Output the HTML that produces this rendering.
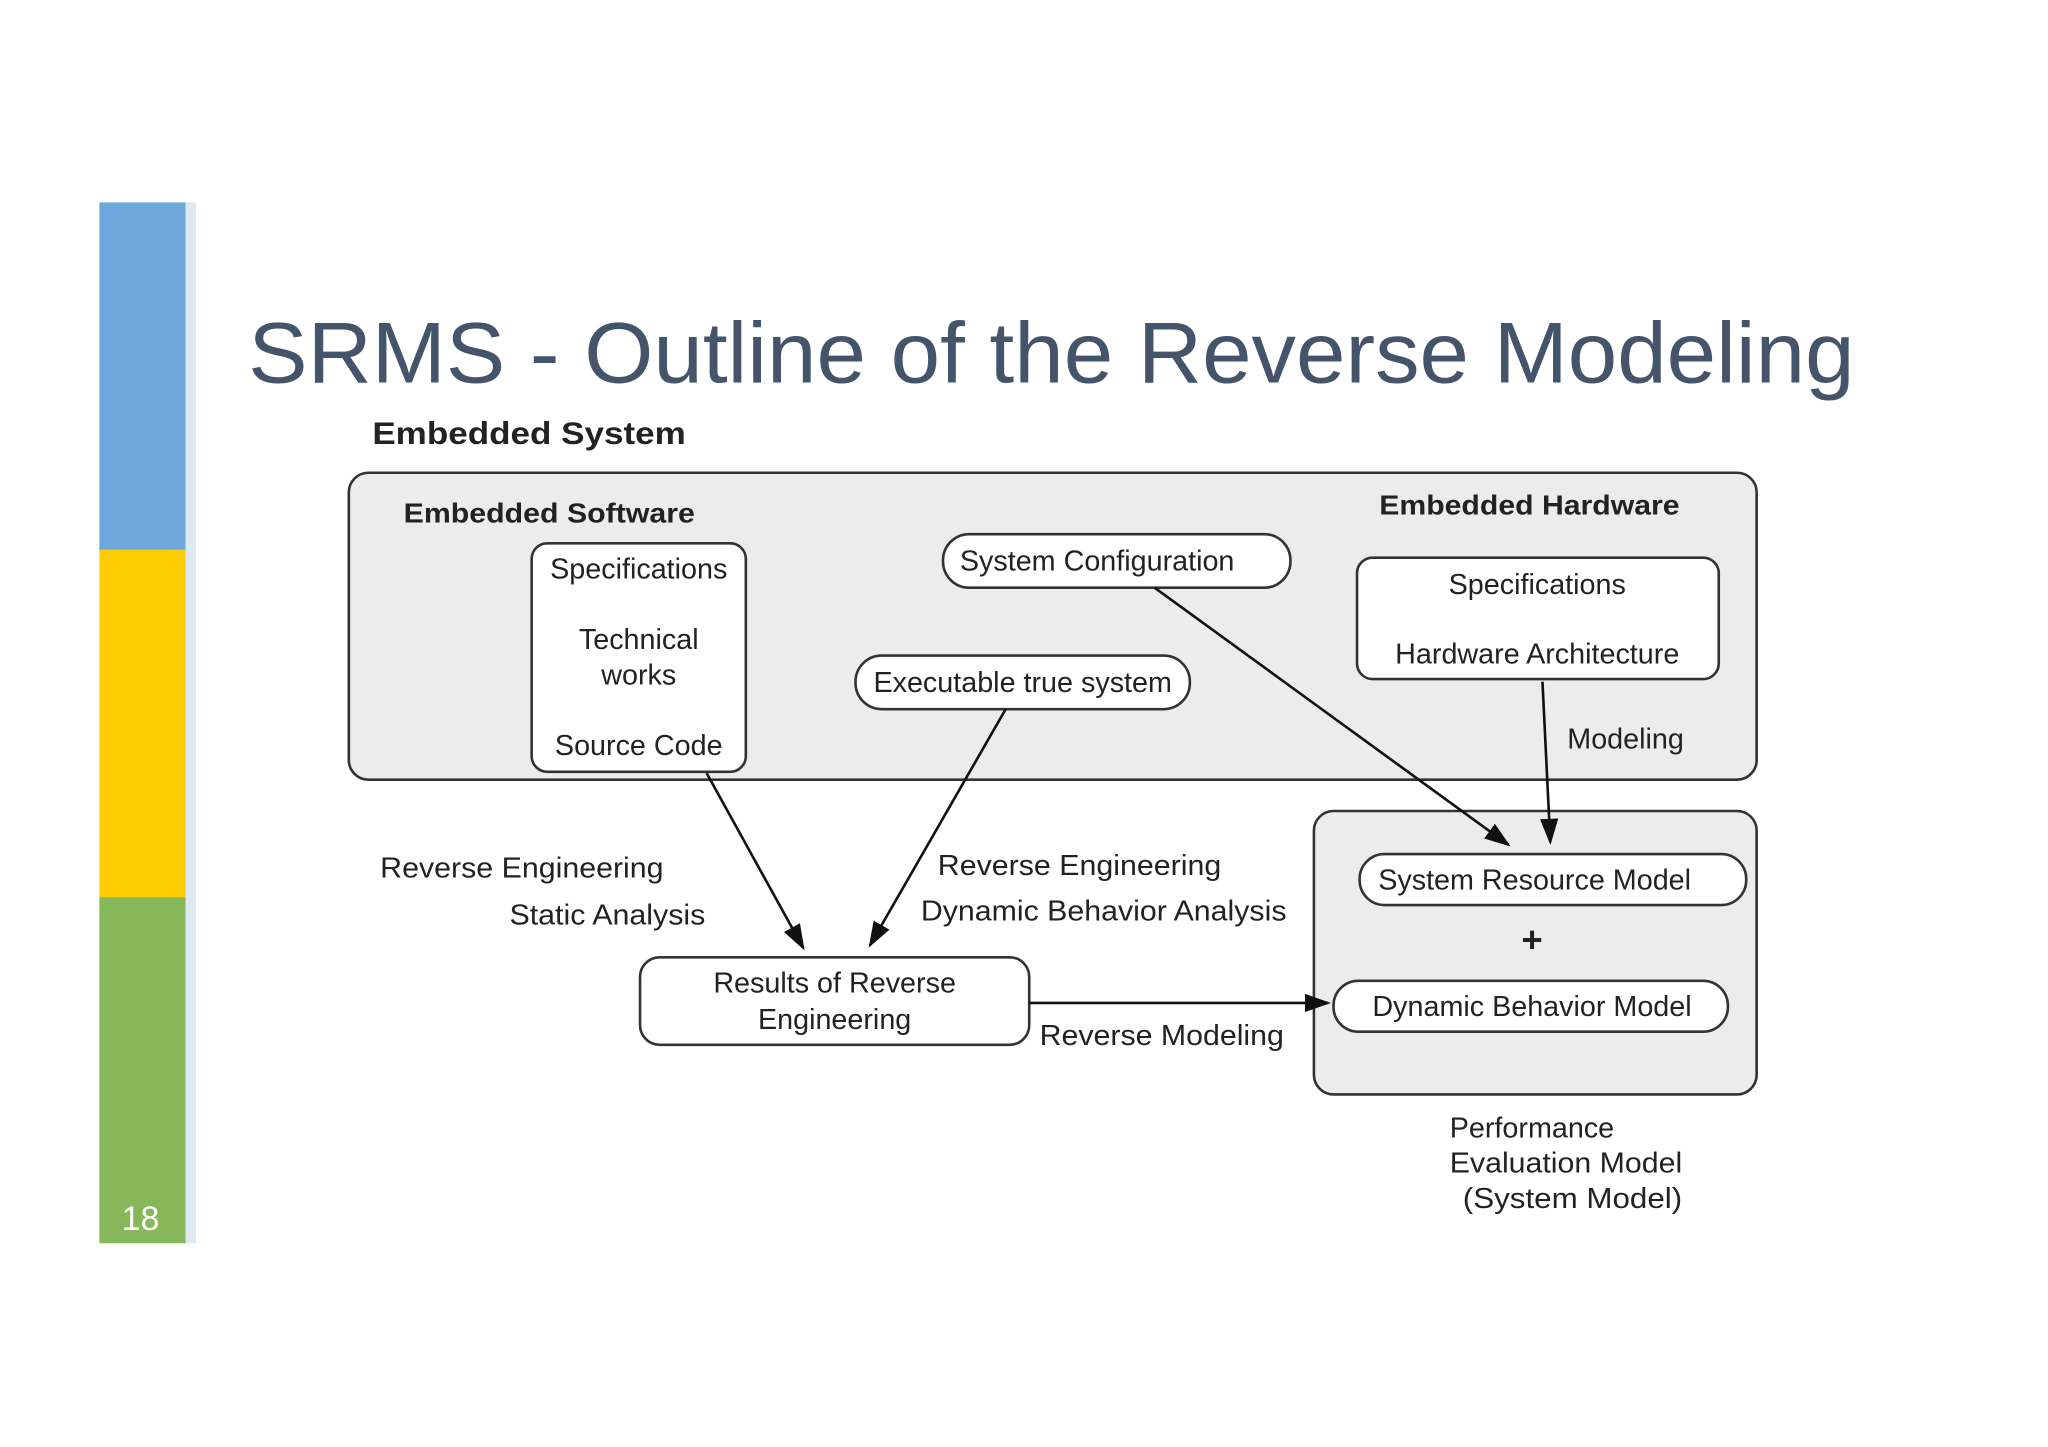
<!DOCTYPE html>
<html><head><style>
html,body{margin:0;padding:0;background:#fff;}
svg{display:block;}
text{font-family:"Liberation Sans",Arial,sans-serif;fill:#222;}
</style></head><body>
<svg width="2048" height="1447" viewBox="0 0 1568 1108" xmlns="http://www.w3.org/2000/svg">
<defs>
<marker id="ah" markerWidth="20" markerHeight="16" refX="18" refY="7" orient="auto" markerUnits="userSpaceOnUse" viewBox="0 0 20 14">
<path d="M0,0 L20,7 L0,14 Z" fill="#111"/>
</marker>
</defs>
<rect x="0" y="0" width="1568" height="1108" fill="#fff"/>
<rect x="76" y="155" width="66" height="266" fill="#6fa8dc"/>
<rect x="76" y="421" width="66" height="266" fill="#fdcb02"/>
<rect x="76" y="687" width="66" height="265" fill="#86b85a"/>
<rect x="142" y="155" width="8" height="797" fill="#dde9f3"/>
<text x="93" y="942" style="font-size:26px;fill:#fff">18</text>
<text x="190" y="293" textLength="1230" lengthAdjust="spacingAndGlyphs" style="font-size:66px;fill:#44546a">SRMS - Outline of the Reverse Modeling</text>

<g style="font-size:22px">
<text x="285" y="340" textLength="240" lengthAdjust="spacingAndGlyphs" style="font-weight:bold;font-size:24px">Embedded System</text>
<rect x="267" y="362" width="1078" height="235" rx="15" fill="#ececec" stroke="#333" stroke-width="2"/>
<text x="309" y="400" textLength="223" lengthAdjust="spacingAndGlyphs" style="font-weight:bold;font-size:21px">Embedded Software</text>
<text x="1056" y="394" textLength="230" lengthAdjust="spacingAndGlyphs" style="font-weight:bold;font-size:21px">Embedded Hardware</text>

<rect x="407" y="416" width="164" height="175" rx="12" fill="#fff" stroke="#333" stroke-width="2"/>
<g text-anchor="middle">
<text x="489" y="443">Specifications</text>
<text x="489" y="497">Technical</text>
<text x="489" y="524">works</text>
<text x="489" y="578">Source Code</text>
</g>
<rect x="722" y="409" width="266" height="41" rx="20" fill="#fff" stroke="#333" stroke-width="2"/>
<text x="840" y="437" text-anchor="middle">System Configuration</text>
<rect x="655" y="502" width="256" height="41" rx="20" fill="#fff" stroke="#333" stroke-width="2"/>
<text x="783" y="530" text-anchor="middle">Executable true system</text>
<rect x="1039" y="427" width="277" height="93" rx="12" fill="#fff" stroke="#333" stroke-width="2"/>
<text x="1177" y="455" text-anchor="middle">Specifications</text>
<text x="1177" y="508" text-anchor="middle">Hardware Architecture</text>
<text x="1200" y="573">Modeling</text>

<rect x="1006" y="621" width="339" height="217" rx="15" fill="#ececec" stroke="#333" stroke-width="2"/>
<rect x="1041" y="654" width="296" height="39" rx="19" fill="#fff" stroke="#333" stroke-width="2"/>
<text x="1175" y="681" text-anchor="middle">System Resource Model</text>
<text x="1173" y="729" text-anchor="middle" style="font-size:28px;font-weight:bold">+</text>
<rect x="1021" y="751" width="302" height="39" rx="19" fill="#fff" stroke="#333" stroke-width="2"/>
<text x="1173" y="778" text-anchor="middle">Dynamic Behavior Model</text>

<rect x="490" y="733" width="298" height="67" rx="15" fill="#fff" stroke="#333" stroke-width="2"/>
<text x="639" y="760" text-anchor="middle">Results of Reverse</text>
<text x="639" y="788" text-anchor="middle">Engineering</text>

<text x="291" y="672" textLength="217" lengthAdjust="spacingAndGlyphs">Reverse Engineering</text>
<text x="390" y="708" textLength="150" lengthAdjust="spacingAndGlyphs">Static Analysis</text>
<text x="718" y="670" textLength="217" lengthAdjust="spacingAndGlyphs">Reverse Engineering</text>
<text x="705" y="705" textLength="280" lengthAdjust="spacingAndGlyphs">Dynamic Behavior Analysis</text>
<text x="796" y="800" textLength="187" lengthAdjust="spacingAndGlyphs">Reverse Modeling</text>
<text x="1110" y="871">Performance</text>
<text x="1110" y="898" textLength="178" lengthAdjust="spacingAndGlyphs">Evaluation Model</text>
<text x="1120" y="925" textLength="168" lengthAdjust="spacingAndGlyphs">(System Model)</text>

<g stroke="#111" stroke-width="2" fill="none" marker-end="url(#ah)">
<line x1="541" y1="592" x2="615" y2="726"/>
<line x1="770" y1="543" x2="666" y2="724"/>
<line x1="884" y1="450" x2="1155" y2="647"/>
<line x1="1181" y1="522" x2="1187" y2="645"/>
<line x1="788" y1="768" x2="1017" y2="768"/>
</g>
</g>
</svg>
</body></html>
